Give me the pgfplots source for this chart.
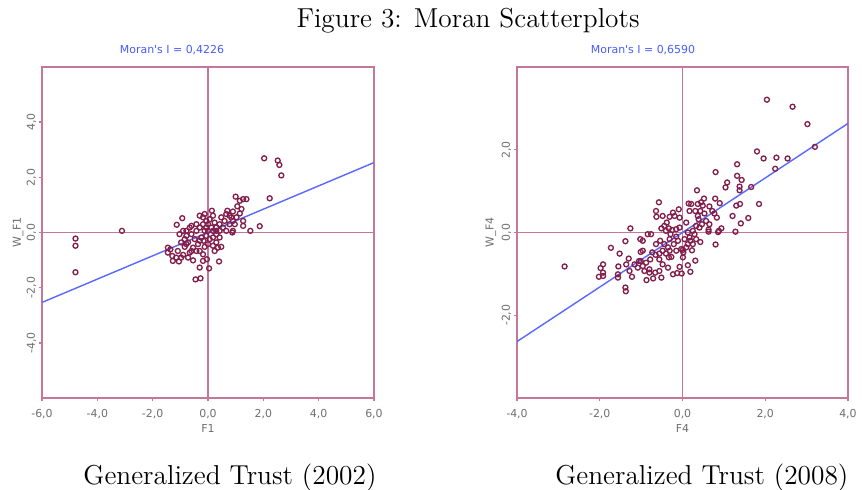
\documentclass[border=0pt]{standalone}
\usepackage{pgfplots}
\pgfplotsset{compat=1.18}
\usepackage{fontspec}
\newfontfamily\dejavu{DejaVu Sans}
\newcommand\tickf{\dejavu\fontsize{4.6}{5.5}\selectfont}
\definecolor{frameC}{RGB}{196,118,155}
\definecolor{markC}{RGB}{130,30,75}
\definecolor{lineC}{RGB}{90,105,255}
\definecolor{moranC}{RGB}{70,90,255}
\definecolor{tickC}{RGB}{110,110,110}
\pgfplotsset{moran/.style={
  scale only axis,
  anchor=south west,
  axis line style={frameC, line width=0.8pt},
  tick style={frameC, line width=0.6pt},
  tick align=outside,
  major tick length=1.4pt,
  xtick pos=bottom, ytick pos=left,
  ticklabel style={font=\tickf, text=tickC},
  yticklabel style={rotate=90, anchor=south},
  yticklabel shift=-2.5pt,
  label style={font=\tickf, text=tickC},
  xlabel style={at={(axis description cs:0.5,0)}, anchor=center, yshift=-13pt},
  clip=true,
}}
\begin{document}
\begin{tikzpicture}
\useasboundingbox (0pt,0pt) rectangle (362.04pt,-205.8pt);
\node[font=\fontsize{11.5}{13}\selectfont] at (196.6pt,-8.6pt) {Figure 3: Moran Scatterplots};
\node[font=\fontsize{11.5}{13}\selectfont] at (96.6pt,-200.76pt) {Generalized Trust (2002)};
\node[font=\fontsize{11.5}{13}\selectfont] at (294.8pt,-200.76pt) {Generalized Trust (2008)};
\node[font=\tickf, text=moranC] at (72.24pt,-21pt) {Moran's I = 0,4226};
\node[font=\tickf, text=moranC] at (270.06pt,-21pt) {Moran's I = 0,6590};

\begin{axis}[moran,
  at={(17.64pt,-167.16pt)}, width=139.44pt, height=139.02pt,
  xmin=-6, xmax=6, ymin=-6, ymax=6,
  xtick={-6,-4,-2,0,2,4,6},
  xticklabels={{-6,0},{-4,0},{-2,0},{0,0},{2,0},{4,0},{6,0}},
  ytick={-4,-2,0,2,4},
  yticklabels={{-4,0},{-2,0},{0,0},{2,0},{4,0}},
  xlabel={F1}, ylabel={W\_F1},
  ylabel style={at={(axis description cs:0,0.5)}, anchor=center, yshift=10pt},
]
\addplot[frameC, line width=0.8pt, forget plot] coordinates {(0,-6) (0,6)};
\addplot[frameC, line width=0.8pt, forget plot] coordinates {(-6,0) (6,0)};
\addplot[only marks, mark=o, mark size=1.05pt, mark options={markC, line width=0.55pt}] table {
x y
2.03 2.69
2.52 2.61
2.58 2.45
2.65 2.07
2.23 1.24
1.87 0.23
1.53 0.06
-3.11 0.06
-4.79 -0.22
-4.79 -0.48
-4.79 -1.44
-0.93 0.52
-1.13 0.28
1.00 1.30
1.39 1.21
1.27 1.21
1.15 1.15
1.21 0.85
1.06 0.95
0.90 0.76
0.70 0.79
0.78 0.61
1.27 0.42
1.27 0.24
0.88 0.00
0.14 0.79
0.40 -1.05
0.04 -1.30
-0.04 -0.97
-0.30 -1.27
-0.45 -1.70
-0.27 -1.66
-1.36 -0.61
-1.45 -0.73
-1.29 -0.85
-1.05 -1.05
-1.15 -0.91
-0.90 -0.81
-0.72 -0.91
-0.54 -1.01
-0.66 -0.73
-0.84 -0.52
-0.97 -0.36
-0.84 -0.24
-0.78 0.06
-0.66 0.18
-0.60 -0.06
-0.42 0.06
-0.48 -0.24
-0.36 -0.42
-0.30 -0.67
-0.18 -0.79
-0.12 -0.52
0.00 -0.42
0.18 -0.48
0.30 -0.36
0.48 -0.52
0.42 -0.18
0.30 -0.06
0.18 0.06
0.12 0.18
0.24 0.36
0.42 0.30
0.54 0.18
0.66 0.06
0.60 0.42
0.78 0.30
0.90 0.42
-0.18 0.30
-0.18 0.55
-0.06 0.42
0.06 0.48
-0.12 0.06
-0.24 -0.18
-0.06 -0.12
0.06 -0.24
-0.30 0.18
-0.42 0.30
-0.60 0.24
-0.78 -0.12
-1.03 -0.06
-0.90 0.06
-0.72 -0.36
-0.54 -0.55
-0.42 -0.67
-0.60 -0.67
-0.97 -0.91
-1.27 -1.03
-0.18 -1.03
0.24 -0.67
0.36 -0.55
0.30 0.06
0.48 0.55
0.66 0.67
0.84 0.55
1.03 0.55
1.15 0.69
0.97 0.30
0.90 0.06
-0.16 -0.30
-0.30 -0.30
0.18 -0.18
-0.06 0.18
0.00 0.30
0.30 0.18
0.42 0.06
-0.78 -0.42
-1.09 -0.67
-1.45 -0.55
0.00 0.06
-0.12 0.67
0.18 0.61
-0.30 0.61
};
\addplot[lineC, line width=0.6pt] coordinates {(-6,-2.5356) (6,2.5356)};
\end{axis}

\begin{axis}[moran,
  at={(217.14pt,-167.16pt)}, width=139.02pt, height=139.02pt,
  xmin=-4, xmax=4, ymin=-4, ymax=4,
  xtick={-4,-2,0,2,4},
  xticklabels={{-4,0},{-2,0},{0,0},{2,0},{4,0}},
  ytick={-2,0,2},
  yticklabels={{-2,0},{0,0},{2,0}},
  xlabel={F4}, ylabel={W\_F4},
  ylabel style={at={(axis description cs:0,0.5)}, anchor=center, yshift=11pt},
]
\addplot[frameC, line width=0.8pt, forget plot] coordinates {(0,-4) (0,4)};
\addplot[frameC, line width=0.8pt, forget plot] coordinates {(-4,0) (4,0)};
\addplot[only marks, mark=o, mark size=1.05pt, mark options={markC, line width=0.55pt}] table {
x y
2.04 3.21
2.66 3.04
3.02 2.62
3.20 2.07
1.80 1.96
1.96 1.79
2.27 1.81
2.54 1.79
2.24 1.54
1.32 1.65
0.80 1.46
1.32 1.37
1.43 1.27
1.08 1.21
1.04 1.09
1.38 1.11
1.38 1.02
1.66 1.10
0.35 1.02
0.52 0.82
0.79 0.82
0.90 0.71
1.85 0.69
1.39 0.69
1.30 0.65
1.21 0.40
1.59 0.35
1.41 0.22
1.28 0.02
0.94 0.10
0.86 0.01
0.80 -0.29
0.63 0.07
0.63 0.02
0.43 -0.23
0.31 -0.68
0.19 -0.95
0.13 -0.79
-0.02 -0.99
-0.13 -0.98
-0.23 -1.01
-0.35 -0.85
-0.51 -1.09
-0.71 -1.11
-0.87 -1.15
-0.56 -0.93
-0.66 -0.97
-0.80 -0.89
-0.96 -0.81
-1.08 -0.85
-1.22 -1.07
-1.38 -1.33
-1.37 -1.42
-1.56 -1.09
-1.56 -1.01
-1.55 -0.82
-1.52 -0.51
-1.73 -0.37
-2.02 -1.07
-1.92 -0.97
-1.92 -0.77
-1.98 -0.86
-2.85 -0.82
-1.30 -0.63
-1.36 -0.77
-1.38 -0.21
-1.26 0.10
-1.02 -0.16
-0.96 -0.20
-0.84 -0.04
-0.76 -0.04
-1.01 -0.47
-0.96 -0.44
-1.01 -0.69
-0.88 -0.73
-0.78 -0.65
-0.73 -0.48
-0.65 -0.54
-0.56 -0.51
-0.56 -0.65
-0.48 -0.44
-0.40 -0.51
-0.33 -0.60
-0.27 -0.59
-0.35 -0.36
-0.44 -0.28
-0.54 -0.20
-0.64 -0.28
-0.21 -0.28
-0.15 -0.44
-0.03 -0.40
0.02 -0.48
0.01 -0.42
-0.15 -0.10
-0.29 -0.04
-0.25 0.06
-0.40 0.04
-0.51 0.10
-0.44 0.16
-0.38 0.24
-0.31 0.38
-0.19 0.40
-0.07 0.36
-0.09 0.56
-0.23 0.48
-0.48 0.40
-0.64 0.52
-0.63 0.38
-0.57 0.73
-0.33 0.10
-0.15 0.08
-0.07 0.12
0.15 0.70
0.21 0.69
0.17 0.52
0.31 0.52
0.37 0.40
0.39 0.32
0.43 0.52
0.49 0.65
0.53 0.46
0.65 0.63
0.72 0.52
0.77 0.46
0.83 0.36
0.57 0.28
0.47 0.20
0.33 0.16
0.25 0.04
0.29 -0.04
0.17 -0.12
0.19 -0.20
0.25 -0.28
0.13 -0.28
0.23 -0.43
0.09 -0.36
0.37 0.69
0.45 0.73
0.65 0.20
0.88 0.04
0.41 0.12
0.09 0.24
0.13 0.00
-0.31 -0.16
-0.11 -0.20
-0.31 -0.44
-0.48 -0.77
-0.80 -0.97
-1.05 -0.69
-1.16 -0.77
-1.28 -0.93
-1.92 -1.05
-0.92 -0.93
0.01 -0.60
-0.07 -0.83
0.33 -0.16
0.05 -0.16
};
\addplot[lineC, line width=0.6pt] coordinates {(-4,-2.636) (4,2.636)};
\end{axis}
\end{tikzpicture}
\end{document}
